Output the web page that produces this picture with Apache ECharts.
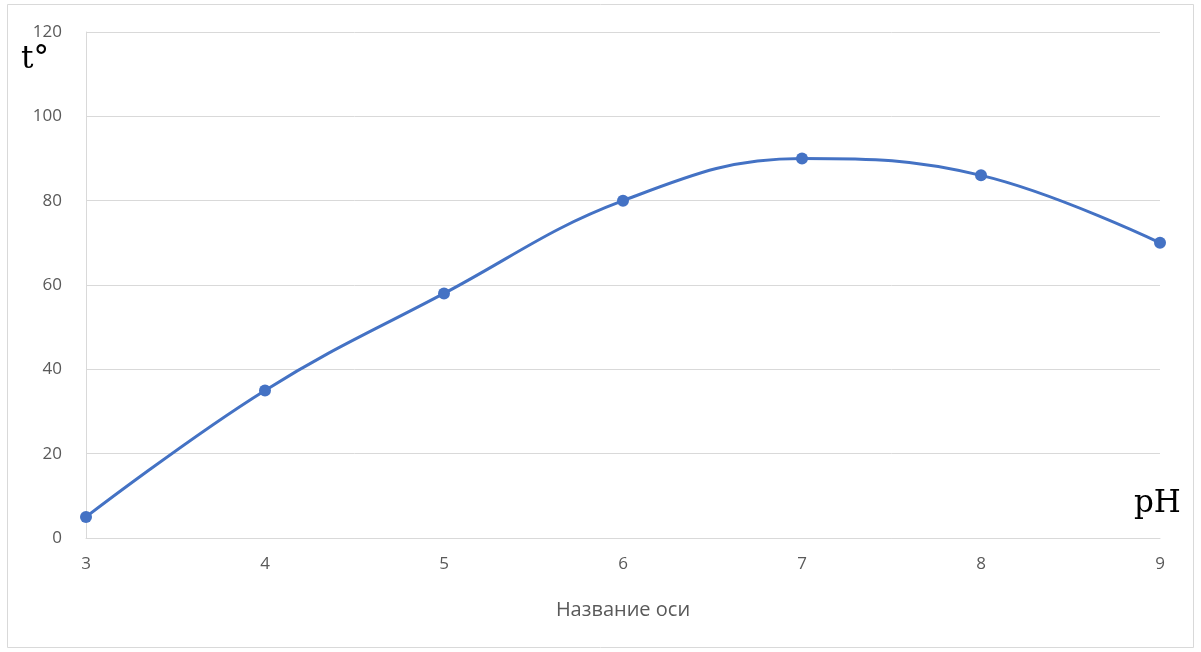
<!DOCTYPE html>
<html>
<head>
<meta charset="utf-8">
<script src="https://cdn.jsdelivr.net/npm/echarts@6/dist/echarts.min.js"></script>
<style>
  html, body { margin: 0; padding: 0; background: #fff; }
  #chart { width: 1201px; height: 652px; }
</style>
</head>
<body>
<div id="chart"></div>
<script>
// pH values and the matching temperature readings
const phValues = [3, 4, 5, 6, 7, 8, 9];
const tempValues = [5, 35, 58, 80, 90, 86, 70];
const yTicks = [0, 20, 40, 60, 80, 100, 120];

const chart = echarts.init(document.getElementById('chart'));
const sansFamily = '"Open Sans", "Noto Sans", sans-serif';
const serifFamily = '"DejaVu Serif", "Liberation Serif", serif';
const tickFont = { color: '#595959', fontSize: 17, fontFamily: sansFamily };

chart.setOption({
  animation: false,
  backgroundColor: '#ffffff',
  grid: { left: 86, right: 41, top: 32, bottom: 114 },
  graphic: [
    {
      type: 'rect',
      shape: { x: 7.5, y: 4.5, width: 1186, height: 643 },
      style: { fill: 'none', stroke: '#d9d9d9', lineWidth: 1 },
      silent: true
    },
    {
      type: 'text', left: 21, top: 44,
      style: { text: 't\u00B0', fontSize: 31, fontFamily: serifFamily, fill: '#000' }
    },
    {
      type: 'text', left: 1134, top: 488,
      style: { text: 'pH', fontSize: 31, fontFamily: serifFamily, fill: '#000' }
    }
  ],
  xAxis: {
    type: 'value',
    min: phValues[0],
    max: phValues[phValues.length - 1],
    interval: 1,
    name: 'Название оси',
    nameLocation: 'middle',
    nameGap: 62,
    nameTextStyle: { color: '#595959', fontSize: 20, fontFamily: sansFamily },
    axisLine: { show: true, lineStyle: { color: '#d9d9d9', width: 1 } },
    axisTick: { show: false },
    splitLine: { show: false },
    axisLabel: Object.assign({ margin: 18 }, tickFont)
  },
  yAxis: {
    type: 'value',
    min: yTicks[0],
    max: yTicks[yTicks.length - 1],
    interval: 20,
    axisLine: { show: true, lineStyle: { color: '#d9d9d9', width: 1 } },
    axisTick: { show: false },
    splitLine: { show: true, lineStyle: { color: '#d9d9d9', width: 1 } },
    axisLabel: Object.assign({ margin: 24 }, tickFont)
  },
  series: [{
    type: 'line',
    data: phValues.map((x, i) => [x, tempValues[i]]),
    smooth: 0.4,
    symbol: 'circle',
    symbolSize: 12,
    lineStyle: { color: '#4472C4', width: 3 },
    itemStyle: { color: '#4472C4' }
  }]
});
</script>
</body>
</html>
